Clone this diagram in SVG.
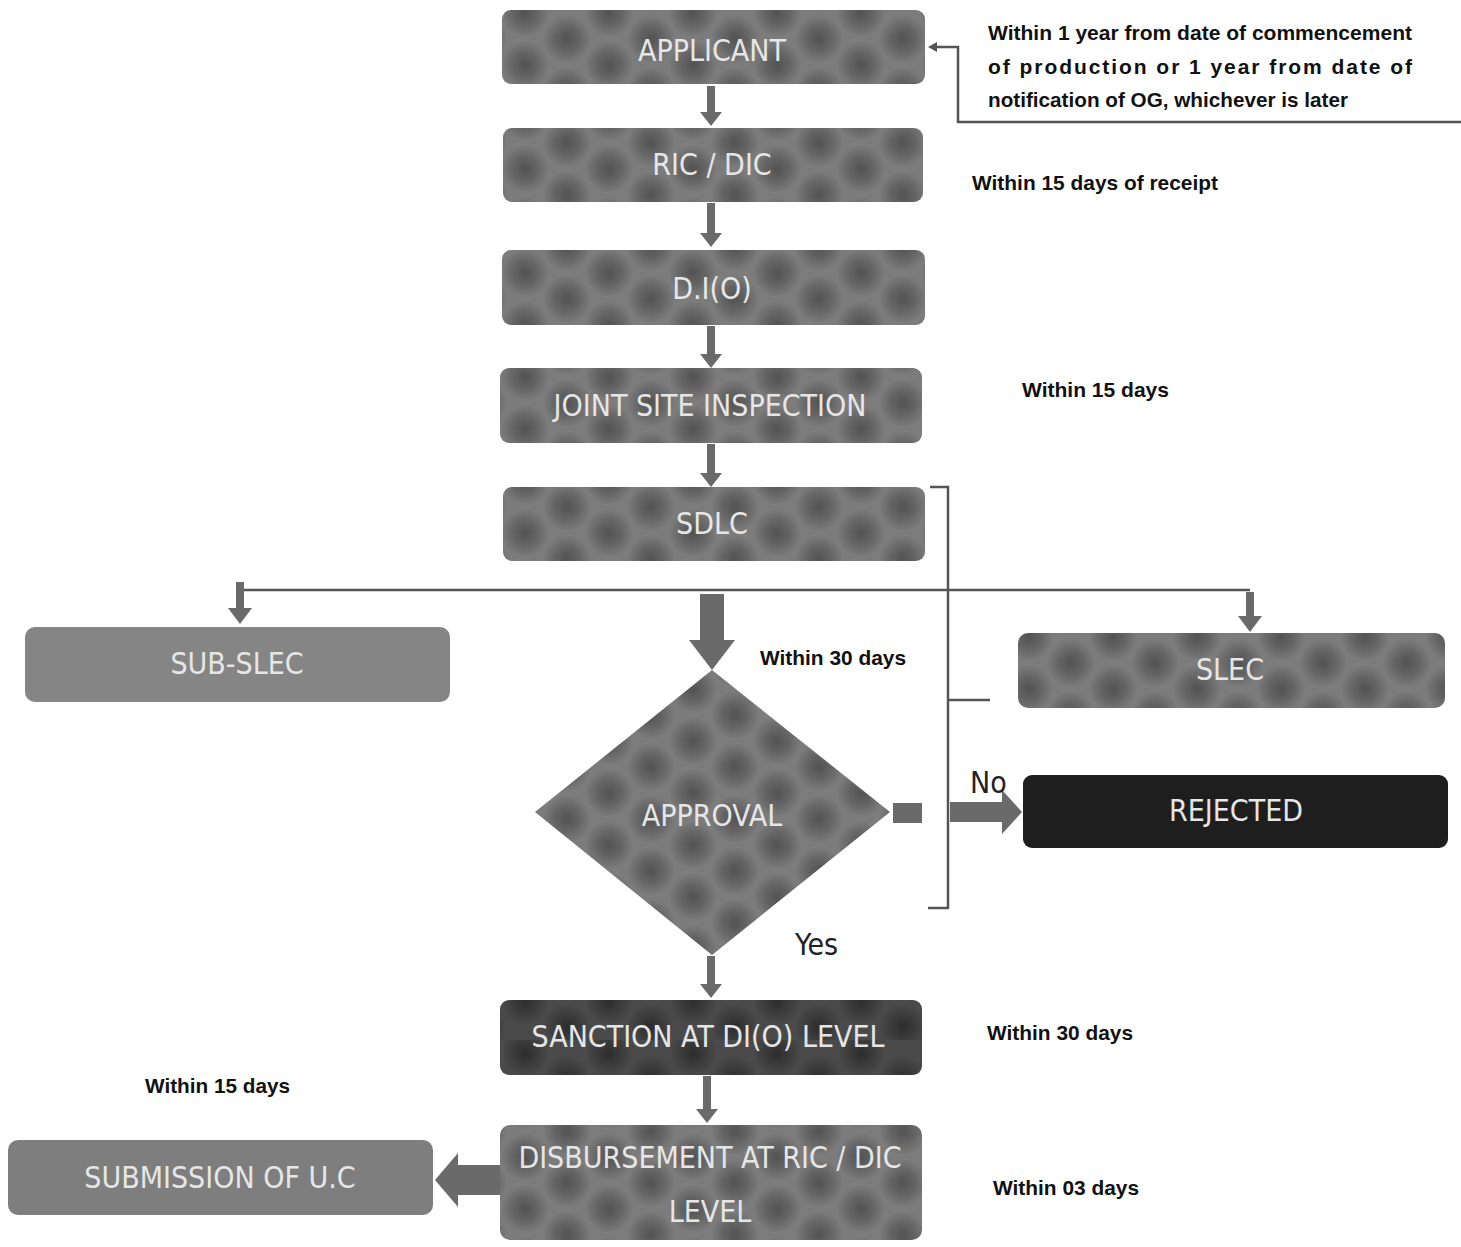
<svg xmlns="http://www.w3.org/2000/svg" width="1461" height="1247" viewBox="0 0 1461 1247">
<style>
.lbl{font-family:"Liberation Sans Narrow","DejaVu Sans Condensed","Liberation Sans",sans-serif;font-size:30px;fill:#e6e6e6;text-anchor:middle;dominant-baseline:central}
.note{font-family:"Liberation Sans",Arial,sans-serif;font-size:21px;font-weight:bold;fill:#111}
.yn{font-family:"Liberation Sans Narrow","DejaVu Sans Condensed","Liberation Sans",sans-serif;font-size:30px;fill:#222}
.ln{stroke:#555;stroke-width:2.5;fill:none}
.ar{fill:#6a6a6a}
</style>
<defs>
<radialGradient id="blob">
<stop offset="0" stop-color="#4c4c4c" stop-opacity="0.85"/>
<stop offset="0.5" stop-color="#4c4c4c" stop-opacity="0.5"/>
<stop offset="1" stop-color="#4c4c4c" stop-opacity="0"/>
</radialGradient>
<radialGradient id="blobd">
<stop offset="0" stop-color="#252525" stop-opacity="0.8"/>
<stop offset="1" stop-color="#252525" stop-opacity="0"/>
</radialGradient>
<pattern id="tex" width="84" height="52" patternUnits="userSpaceOnUse">
<rect width="84" height="52" fill="#7c7c7c"/>
<circle cx="21" cy="13" r="24" fill="url(#blob)"/>
<circle cx="63" cy="39" r="24" fill="url(#blob)"/>
<circle cx="63" cy="-13" r="24" fill="url(#blob)"/>
<circle cx="-21" cy="39" r="24" fill="url(#blob)"/>
<circle cx="21" cy="65" r="24" fill="url(#blob)"/>
<circle cx="105" cy="13" r="24" fill="url(#blob)"/>
</pattern>
<pattern id="texd" width="84" height="52" patternUnits="userSpaceOnUse">
<rect width="84" height="52" fill="#4a4a4a"/>
<circle cx="21" cy="13" r="24" fill="url(#blobd)"/>
<circle cx="63" cy="39" r="24" fill="url(#blobd)"/>
</pattern>
</defs>
<rect width="1461" height="1247" fill="#ffffff"/>

<g id="connectors">
<path class="ar" d="M707 86h8v26h7l-11 14l-11-14h7z"/>
<path class="ar" d="M707 203h8v30h7l-11 14l-11-14h7z"/>
<path class="ar" d="M707 326h8v28h7l-11 14l-11-14h7z"/>
<path class="ar" d="M707 444h8v29h7l-11 14l-11-14h7z"/>
<path class="ln" d="M240 590H1250" stroke-width="2"/>
<path class="ar" d="M236 582h8v26h8l-12 16l-12-16h8z"/>
<path class="ar" d="M1246 592h8v24h8l-12 16l-12-16h8z"/>
<path class="ar" d="M700 594h24v46h11l-23 30l-23-30h11z"/>
<rect x="893" y="803" width="29" height="20" fill="#6a6a6a"/>
<path class="ar" d="M950 802h52v-12l20 22l-20 22v-12h-52z"/>
<path class="ln" d="M930 487H948V908H928"/>
<path class="ln" d="M948 700H990"/>
<path class="ar" d="M707 956h8v28h7l-11 14l-11-14h7z"/>
<path class="ar" d="M703 1076h8v33h7l-11 14l-11-14h7z"/>
<path class="ar" d="M500 1165h-42v-12l-23 27l23 27v-12h42z"/>
<path class="ln" d="M1461 122H958V47H936" stroke-width="2"/>
<path d="M928 47l9-5v10z" fill="#555"/>
</g>

<g id="applicant"><rect x="502" y="10" width="423" height="74" rx="9" fill="url(#tex)"/><text class="lbl" x="712" y="50">APPLICANT</text></g>
<g id="ric-dic"><rect x="503" y="128" width="420" height="74" rx="9" fill="url(#tex)"/><text class="lbl" x="712" y="164">RIC / DIC</text></g>
<g id="dio"><rect x="502" y="250" width="423" height="75" rx="9" fill="url(#tex)"/><text class="lbl" x="712" y="288">D.I(O)</text></g>
<g id="jsi"><rect x="500" y="368" width="422" height="75" rx="9" fill="url(#tex)"/><text class="lbl" x="710" y="405">JOINT SITE INSPECTION</text></g>
<g id="sdlc"><rect x="503" y="487" width="422" height="74" rx="9" fill="url(#tex)"/><text class="lbl" x="712" y="523">SDLC</text></g>
<g id="sub-slec"><rect x="25" y="627" width="425" height="75" rx="10" fill="#858585"/><text class="lbl" x="237" y="663">SUB-SLEC</text></g>
<g id="slec"><rect x="1018" y="633" width="427" height="75" rx="10" fill="url(#tex)"/><text class="lbl" x="1230" y="669">SLEC</text></g>
<g id="approval"><path d="M712 670L890 812L712 955L535 812Z" fill="url(#tex)"/><text class="lbl" x="712" y="815">APPROVAL</text></g>
<g id="rejected"><rect x="1023" y="775" width="425" height="73" rx="9" fill="#1e1e1e"/><text class="lbl" x="1236" y="810">REJECTED</text></g>
<g id="sanction"><rect x="500" y="1000" width="422" height="75" rx="9" fill="url(#texd)"/><text class="lbl" x="708" y="1036">SANCTION AT DI(O) LEVEL</text></g>
<g id="disbursement"><rect x="500" y="1125" width="422" height="115" rx="10" fill="url(#tex)"/><text class="lbl" x="710" y="1157">DISBURSEMENT AT RIC / DIC</text><text class="lbl" x="710" y="1211">LEVEL</text></g>
<g id="submission"><rect x="8" y="1140" width="425" height="75" rx="10" fill="#7e7e7e"/><text class="lbl" x="220" y="1177">SUBMISSION OF U.C</text></g>

<g id="labels">
<text class="note" x="988" y="40" textLength="424" lengthAdjust="spacingAndGlyphs">Within 1 year from date of commencement</text>
<text class="note" x="988" y="74" textLength="424" lengthAdjust="spacing">of production or 1 year from date of</text>
<text class="note" x="988" y="107" textLength="360" lengthAdjust="spacingAndGlyphs">notification of OG, whichever is later</text>
<text class="note" x="972" y="190" textLength="246" lengthAdjust="spacingAndGlyphs">Within 15 days of receipt</text>
<text class="note" x="1022" y="397" textLength="147" lengthAdjust="spacingAndGlyphs">Within 15 days</text>
<text class="note" x="760" y="665" textLength="146" lengthAdjust="spacingAndGlyphs">Within 30 days</text>
<text class="note" x="987" y="1040" textLength="146" lengthAdjust="spacingAndGlyphs">Within 30 days</text>
<text class="note" x="993" y="1195" textLength="146" lengthAdjust="spacingAndGlyphs">Within 03 days</text>
<text class="note" x="145" y="1093" textLength="145" lengthAdjust="spacingAndGlyphs">Within 15 days</text>
<text class="yn" x="970" y="793">No</text>
<text class="yn" x="795" y="955">Yes</text>
</g>
</svg>
